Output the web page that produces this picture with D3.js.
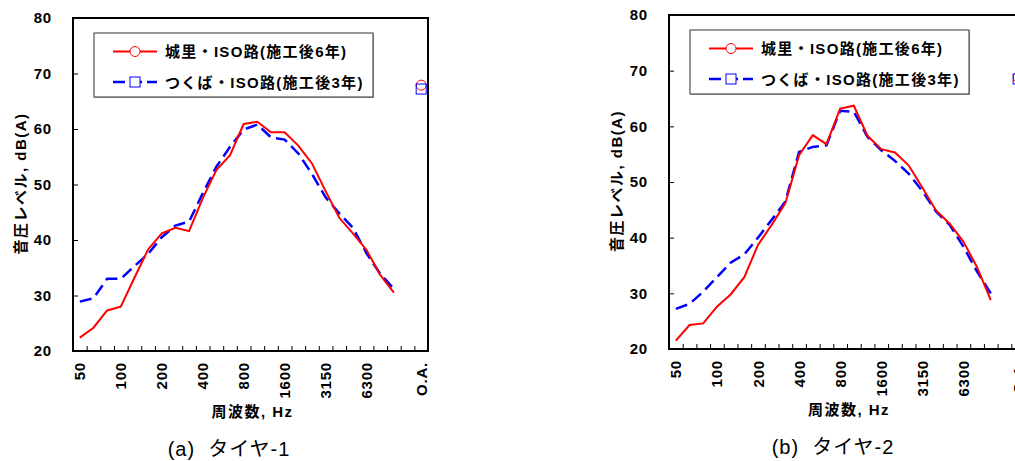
<!DOCTYPE html>
<html>
<head>
<meta charset="utf-8">
<script src="https://cdn.jsdelivr.net/npm/d3@7"></script>
<style>
body { margin: 0; background: #fff; overflow: hidden; }
svg { display: block; font-family: "Liberation Sans", Arial, "Noto Sans CJK JP", sans-serif; }
</style>
</head>
<body>
<svg id="chart" width="1015" height="461"></svg>
<script>
// 1/3 octave bands, a blank slot, then overall
var bands = ["50","63","80","100","125","160","200","250","315","400","500","630","800","1000","1250","1600","2000","2500","3150","4000","5000","6300","8000","10000","","O.A."];
var shownBands = ["50","100","200","400","800","1600","3150","6300","O.A."];
var yTicks = [20, 30, 40, 50, 60, 70, 80];
var seriesNames = ["城里・ISO路(施工後6年)", "つくば・ISO路(施工後3年)"];
var captions = ["(a)\u00a0\u00a0タイヤ-1", "(b)\u00a0\u00a0タイヤ-2"];

var tire1Joso = [22.4,24.2,27.3,28.0,33.2,38.3,41.2,42.2,41.6,47.5,52.6,55.3,60.9,61.3,59.4,59.4,57.0,53.8,48.8,44.0,41.2,38.2,33.7,30.5];
var tire1Tsukuba = [28.9,29.5,33.0,33.0,35.3,37.5,40.5,42.6,43.3,48.4,53.2,56.8,59.9,60.8,58.5,58.1,55.6,51.9,47.7,44.8,42.2,37.6,33.9,31.2];
var tire2Joso = [21.5,24.3,24.6,27.6,29.8,32.9,38.7,42.3,46.2,54.8,58.4,56.8,63.2,63.7,58.3,55.9,55.3,53.0,49.0,44.9,42.5,39.3,34.7,28.8];
var tire2Tsukuba = [27.2,28.1,30.3,32.9,35.5,37.0,40.0,43.2,46.5,55.4,56.3,56.6,62.8,62.6,58.1,55.7,53.8,51.5,48.4,44.7,42.3,38.4,33.9,30.0];
var oaJoso = [67.9, 68.8];
var oaTsukuba = [67.2, 68.5];

function drawPanel(svg, p, joso, tsukuba, k) {
	var w = p.width, h = p.height;
	var g = svg.append("g").attr("transform", "translate(" + p.left + "," + p.top + ")");

	var x = d3.scaleBand().domain(bands).range([0, w]);
	var xEdge = d3.scaleLinear().domain([0, bands.length]).range([0, w]);
	var y = d3.scaleLinear().domain([20, 80]).range([h, 0]);
	var cx = d => x(d) + x.bandwidth() / 2;

	// tick marks sit between categories, pointing inwards
	g.append("g").attr("transform", "translate(0," + h + ")")
		.call(d3.axisBottom(xEdge).tickValues(d3.range(1, bands.length)).tickSize(-5).tickFormat(""))
		.call(a => a.select(".domain").remove());

	var xl = g.append("g").attr("transform", "translate(0," + h + ")")
		.call(d3.axisBottom(x).tickValues(shownBands).tickSize(0))
		.attr("font-family", null).attr("font-size", 15).attr("font-weight", "bold");
	xl.select(".domain").remove();
	xl.selectAll("text")
		.attr("y", 0).attr("dy", null)
		.attr("transform", "translate(0,11)rotate(-90)")
		.attr("text-anchor", "end")
		.attr("dominant-baseline", "central")
		.attr("letter-spacing", 0.8);

	var yl = g.append("g")
		.call(d3.axisLeft(y).tickValues(yTicks).tickSize(-5).tickPadding(21))
		.attr("font-family", null).attr("font-size", 15).attr("font-weight", "bold");
	yl.select(".domain").remove();
	yl.selectAll("text").attr("letter-spacing", 0.8);

	g.append("rect")
		.attr("width", w).attr("height", h)
		.attr("fill", "none").attr("stroke", "#000").attr("stroke-width", 2);

	var line = d3.line().x((d, i) => cx(bands[i])).y(d => y(d));
	g.append("path").datum(tsukuba).attr("d", line)
		.attr("fill", "none").attr("stroke", "#0000ff").attr("stroke-width", 2.5)
		.attr("stroke-dasharray", "12,6");
	g.append("path").datum(joso).attr("d", line)
		.attr("fill", "none").attr("stroke", "#ff0000").attr("stroke-width", 2);

	// overall values
	g.append("circle")
		.attr("cx", cx("O.A.")).attr("cy", y(oaJoso[k])).attr("r", 5)
		.attr("fill", "none").attr("stroke", "#ff0000");
	g.append("rect")
		.attr("x", cx("O.A.") - 5).attr("y", y(oaTsukuba[k]) - 5)
		.attr("width", 10).attr("height", 10)
		.attr("fill", "none").attr("stroke", "#0000ff");

	// legend
	var lg = g.append("g").attr("transform", "translate(21,15)");
	lg.append("rect").attr("x", 1).attr("y", 1).attr("width", 279).attr("height", 64).attr("fill", "#aaa");
	lg.append("rect").attr("width", 279).attr("height", 64)
		.attr("fill", "#fff").attr("stroke", "#333").attr("stroke-width", 1);
	var rows = lg.selectAll("g.row").data(seriesNames).enter()
		.append("g").attr("class", "row")
		.attr("transform", (d, i) => "translate(0," + (i ? 49 : 18.5) + ")");
	rows.append("line")
		.attr("x1", 19).attr("x2", 63)
		.attr("stroke", (d, i) => i ? "#0000ff" : "#ff0000")
		.attr("stroke-width", (d, i) => i ? 2.5 : 2)
		.attr("stroke-dasharray", (d, i) => i ? "12,5" : null);
	rows.filter((d, i) => i === 0).append("circle")
		.attr("cx", 41).attr("r", 5).attr("fill", "#fff").attr("stroke", "#ff0000");
	rows.filter((d, i) => i === 1).append("rect")
		.attr("x", 36).attr("y", -5).attr("width", 10).attr("height", 10)
		.attr("fill", "#fff").attr("stroke", "#0000ff");
	rows.append("text")
		.attr("x", 71).attr("dominant-baseline", "central")
		.attr("font-size", 15).attr("font-weight", "bold").attr("letter-spacing", 1.3)
		.text(d => d);

	// titles
	g.append("text")
		.attr("transform", "translate(-53," + (h / 2 - 1) + ")rotate(-90)")
		.attr("text-anchor", "middle").attr("dominant-baseline", "central")
		.attr("font-size", 15).attr("font-weight", "bold").attr("letter-spacing", 1.5)
		.text("音圧レベル, dB(A)");
	g.append("text")
		.attr("x", w / 2 + 2).attr("y", h + 65.5)
		.attr("text-anchor", "middle")
		.attr("font-size", 15).attr("font-weight", "bold").attr("letter-spacing", 1.5)
		.text("周波数, Hz");
	svg.append("text")
		.attr("x", p.capX).attr("y", p.top + h + 105)
		.attr("text-anchor", "middle")
		.attr("font-size", 20).attr("letter-spacing", 1)
		.text(captions[k]);
}

function makeChart() {
	var svg = d3.select("#chart");
	var panels = [
		{ left: 73, top: 18, width: 355, height: 333, capX: 229 },
		{ left: 669, top: 15, width: 356, height: 334, capX: 833 }
	];
	drawPanel(svg, panels[0], tire1Joso, tire1Tsukuba, 0);
	drawPanel(svg, panels[1], tire2Joso, tire2Tsukuba, 1);
}

window.addEventListener('DOMContentLoaded', makeChart)
</script>
</body>
</html>
